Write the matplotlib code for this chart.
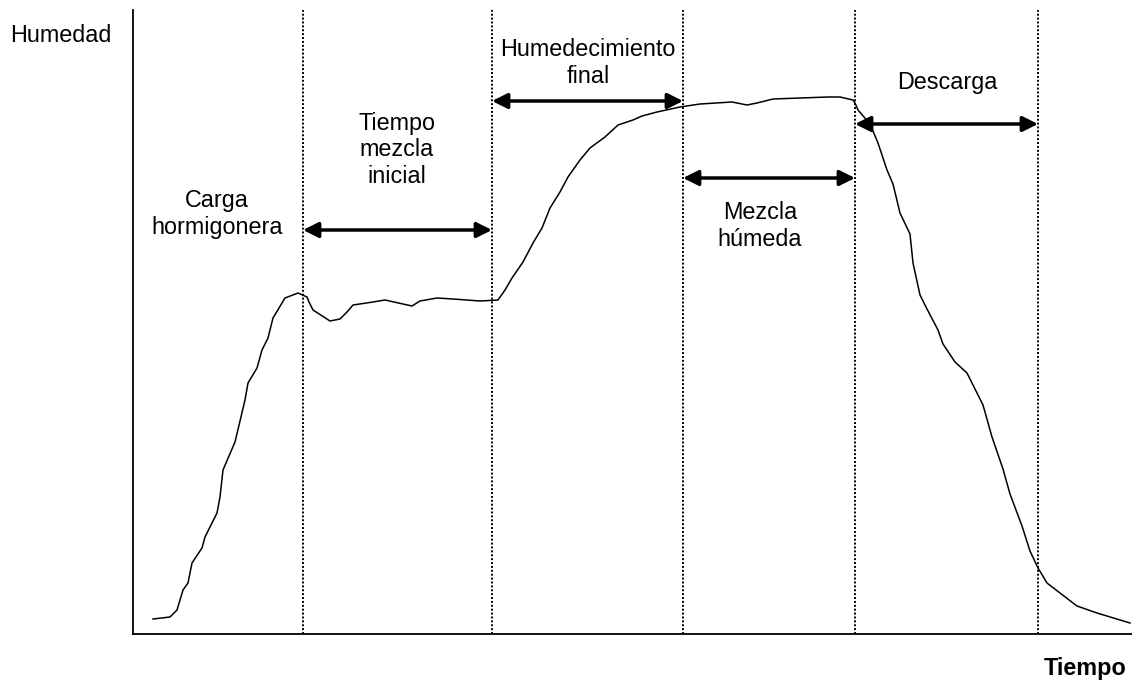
import matplotlib
matplotlib.use("Agg")
import matplotlib.pyplot as plt

plt.rcParams['font.family'] = ['Liberation Sans', 'DejaVu Sans']

# Humidity curve (arbitrary units) vs time (arbitrary units)
time = [20, 37, 44, 50, 55, 59, 69, 72, 84, 87, 90, 102, 112, 115, 124, 129, 135, 140,
        152, 165, 174, 176, 180, 197, 207, 214, 220, 240, 252, 279, 287, 304, 320, 347,
        365, 372, 379, 390, 400, 409, 417, 427, 435, 447, 457, 472, 485, 500, 509, 524,
        547, 567, 599, 614, 624, 640, 667, 695, 707, 720, 722, 725, 737, 745, 754, 760,
        767, 777, 780, 787, 794, 805, 810, 822, 834, 850, 859, 870, 877, 889, 897, 905,
        914, 927, 944, 964, 997]
humidity = [15, 17, 24, 44, 51, 71, 86, 97, 121, 137, 164, 192, 234, 251, 266, 284, 296, 316,
            336, 341, 337, 332, 324, 313, 315, 322, 329, 332, 334, 328, 333, 336, 335, 333,
            334, 344, 356, 372, 391, 406, 426, 442, 457, 474, 486, 497, 509, 514, 518, 522,
            527, 530, 532, 529, 531, 535, 536, 537, 537, 534, 531, 524, 510, 491, 464, 450,
            421, 400, 371, 339, 325, 304, 290, 272, 261, 229, 197, 165, 140, 108, 83, 66,
            51, 41, 28, 21, 11]

# Phase boundaries (time)
boundaries = [170, 359, 550, 722, 905]

# Phase labels
label_carga = "Carga\nhormigonera"
label_inicial = "Tiempo\nmezcla\ninicial"
label_humed = "Humedecimiento\nfinal"
label_mezcla = "Mezcla\nhúmeda"
label_descarga = "Descarga"

W, H = 1132, 683
fig = plt.figure(figsize=(W / 100, H / 100), dpi=100)
ax = fig.add_axes([133 / W, (H - 634) / H, 999 / W, 624 / H])
ax.set_xlim(0, 999)
ax.set_ylim(0, 624)

ax.plot(time, humidity, color='black', lw=1.1)

for b in boundaries:
    ax.axvline(b, color='black', ls=(0, (1, 1)), lw=1.4)

fs = 16.8
ls = 1.22
ax.text(84, 420, label_carga, ha='center', va='center', fontsize=fs, linespacing=ls)
ax.text(264, 484, label_inicial, ha='center', va='center', fontsize=fs, linespacing=ls)
ax.text(455, 571, label_humed, ha='center', va='center', fontsize=fs, linespacing=ls)
ax.text(627, 408, label_mezcla, ha='center', va='center', fontsize=fs, linespacing=ls)
ax.text(814, 552, label_descarga, ha='center', va='center', fontsize=fs, linespacing=ls)

arrows = [(boundaries[0], boundaries[1], 404),
          (boundaries[1], boundaries[2], 533),
          (boundaries[2], boundaries[3], 456),
          (boundaries[3], boundaries[4], 510)]
for x0, x1, yy in arrows:
    ax.annotate('', xy=(x1, yy), xytext=(x0, yy),
                arrowprops=dict(arrowstyle='<|-|>', color='black', lw=2.5,
                                mutation_scale=23, shrinkA=0, shrinkB=0))

for s in ['top', 'right']:
    ax.spines[s].set_visible(False)
for s in ['left', 'bottom']:
    ax.spines[s].set_linewidth(1.3)
ax.set_xticks([])
ax.set_yticks([])

fig.text(10 / W, 1 - 35 / H, "Humedad", ha='left', va='center', fontsize=fs)
fig.text(1127 / W, 1 - 668 / H, "Tiempo", ha='right', va='center', fontsize=fs,
         fontweight='bold')

fig.savefig('out.png', dpi=100)
